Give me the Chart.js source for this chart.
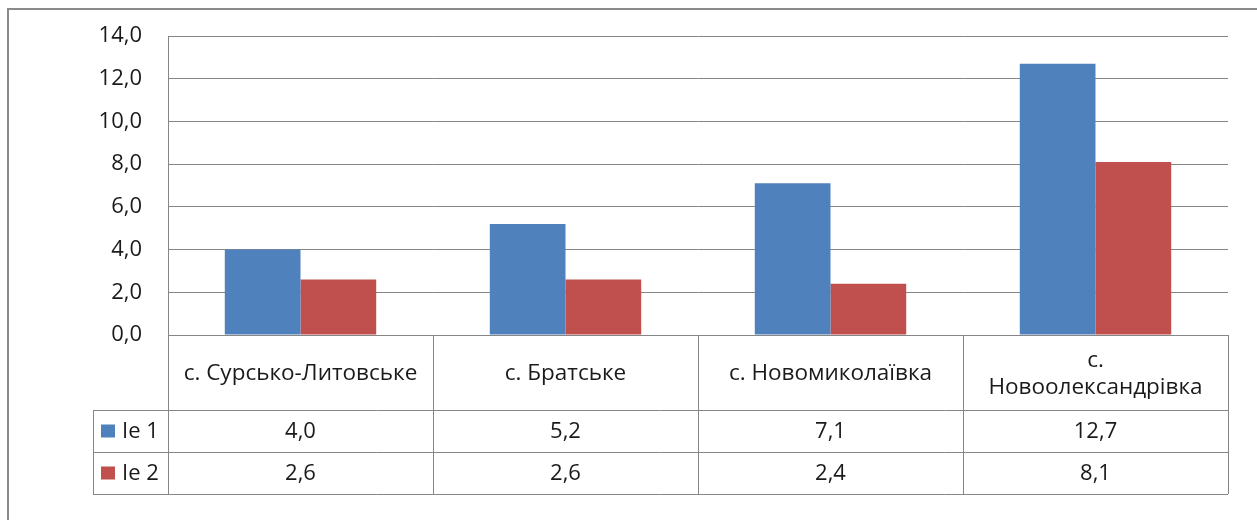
<!DOCTYPE html>
<html>
<head>
<meta charset="utf-8">
<script src="https://cdn.jsdelivr.net/npm/chart.js@4/dist/chart.umd.min.js"></script>
<style>
  html, body { margin: 0; padding: 0; background: #fff; }
  canvas { display: block; }
</style>
</head>
<body>
<canvas id="chart" width="1257" height="520"></canvas>
<script>
// Villages (multi-line where the name wraps in its table cell)
const categories = [
  ['с. Сурсько-Литовське'],
  ['с. Братське'],
  ['с. Новомиколаївка'],
  ['с.', 'Новоолександрівка']
];
const seriesNames = ['Ie 1', 'Ie 2'];
const ie1Values = [4.0, 5.2, 7.1, 12.7];
const ie2Values = [2.6, 2.6, 2.4, 8.1];
const yMin = 0;
const yMax = 14;
const yStep = 2;

const BLUE = '#4F81BD';
const RED = '#C0504D';
const LINE = '#868686';
const FONT = "'Open Sans', 'Noto Sans', sans-serif";
const TEXT = '#1a1a1a';

const fmt = v => v.toFixed(1).replace('.', ',');

// Outer frame of the chart object (extends past the right and bottom edges)
const framePlugin = {
  id: 'frame',
  beforeDraw(chart) {
    const ctx = chart.ctx;
    ctx.save();
    ctx.fillStyle = '#fff';
    ctx.fillRect(0, 0, chart.width, chart.height);
    ctx.strokeStyle = '#8a8a8a';
    ctx.lineWidth = 2;
    ctx.beginPath();
    ctx.moveTo(8, chart.height + 2);
    ctx.lineTo(8, 9);
    ctx.lineTo(chart.width + 2, 9);
    ctx.stroke();
    ctx.restore();
  }
};

// Data table under the plot: category header row + one row per series
const dataTablePlugin = {
  id: 'dataTable',
  afterDraw(chart) {
    const ctx = chart.ctx;
    const ca = chart.chartArea;
    const n = chart.data.labels.length;
    const cellW = (ca.right - ca.left) / n;
    const headerH = 75;
    const rowH = 42;
    const legendW = 75;
    const top = ca.bottom;
    const headerBottom = top + headerH;
    const tableBottom = headerBottom + rowH * chart.data.datasets.length;
    const px = v => Math.round(v) + 0.5;

    ctx.save();
    ctx.strokeStyle = LINE;
    ctx.lineWidth = 1;
    ctx.beginPath();
    // vertical lines between categories (and the axis continued down)
    for (let i = 0; i <= n; i++) {
      const xx = px(ca.left + i * cellW);
      ctx.moveTo(xx, i === 0 ? ca.top : top);
      ctx.lineTo(xx, tableBottom);
    }
    // legend column left edge
    ctx.moveTo(px(ca.left - legendW), headerBottom);
    ctx.lineTo(px(ca.left - legendW), tableBottom);
    // horizontal row lines
    for (let r = 0; r <= chart.data.datasets.length; r++) {
      const yy = px(headerBottom + r * rowH);
      ctx.moveTo(ca.left - legendW, yy);
      ctx.lineTo(ca.right, yy);
    }
    ctx.stroke();

    ctx.fillStyle = TEXT;
    ctx.textAlign = 'center';
    ctx.textBaseline = 'middle';
    // category header labels
    ctx.font = `22.5px ${FONT}`;
    const lineH = 27;
    chart.data.labels.forEach((lab, i) => {
      const lines = Array.isArray(lab) ? lab : [lab];
      const cx = ca.left + (i + 0.5) * cellW;
      const cy = top + headerH / 2 + 1.5;
      lines.forEach((t, k) => {
        ctx.fillText(t, cx, cy + (k - (lines.length - 1) / 2) * lineH);
      });
    });

    // series rows: legend key, name, values
    ctx.font = `22px ${FONT}`;
    chart.data.datasets.forEach((ds, r) => {
      const rowTop = headerBottom + r * rowH;
      const cy = rowTop + rowH / 2 + 0.5;
      ctx.fillStyle = ds.backgroundColor;
      ctx.fillRect(ca.left - legendW + 8, cy - 7, 14, 13);
      ctx.fillStyle = TEXT;
      ctx.textAlign = 'left';
      ctx.fillText(ds.label, ca.left - legendW + 29, cy);
      ctx.textAlign = 'center';
      ds.data.forEach((v, i) => {
        ctx.fillText(fmt(v), ca.left + (i + 0.5) * cellW, cy);
      });
    });
    ctx.restore();
  }
};

new Chart(document.getElementById('chart'), {
  type: 'bar',
  data: {
    labels: categories,
    datasets: [
      { label: seriesNames[0], data: ie1Values, backgroundColor: BLUE, borderWidth: 0 },
      { label: seriesNames[1], data: ie2Values, backgroundColor: RED, borderWidth: 0 }
    ]
  },
  options: {
    responsive: false,
    animation: false,
    devicePixelRatio: 1,
    layout: { padding: { top: 36, right: 29, bottom: 185, left: 0 } },
    datasets: {
      bar: { categoryPercentage: 2 / 3.5, barPercentage: 1.0 }
    },
    plugins: {
      legend: { display: false },
      tooltip: { enabled: false },
      title: { display: false }
    },
    scales: {
      x: {
        display: false
      },
      y: {
        min: yMin,
        max: yMax,
        afterFit(scale) {
          scale.width = 168;
          scale.paddingTop = 0;
          scale.paddingBottom = 0;
        },
        ticks: {
          stepSize: yStep,
          padding: 26,
          color: TEXT,
          font: { family: FONT, size: 22 },
          callback: v => fmt(v)
        },
        grid: { color: LINE, lineWidth: 1, drawTicks: false },
        border: { display: true, color: LINE, width: 1 }
      }
    }
  },
  plugins: [framePlugin, dataTablePlugin]
});
</script>
</body>
</html>
